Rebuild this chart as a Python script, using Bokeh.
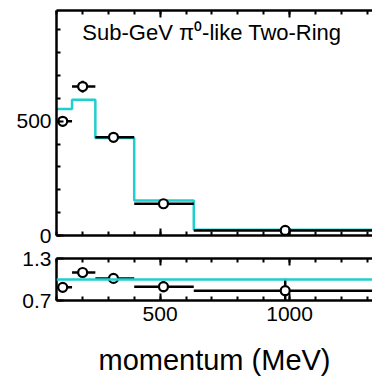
from bokeh.plotting import figure
from bokeh.layouts import column
from bokeh.models import (Range1d, FixedTicker, LinearAxis, Span, Label, CustomLabelingPolicy)
from bokeh.embed import file_html
from bokeh.resources import INLINE

# ---- data ----
bin_edges = [100, 160, 250, 400, 630, 1330]
mc_counts = [554, 594, 427, 153, 25]
data_x = [124, 201, 320, 513, 983]
data_counts = [500, 652, 430, 139, 22]
data_err = [22, 26, 21, 12, 5]
ratio = [0.888, 1.10, 1.016, 0.897, 0.84]
ratio_err = [0.04, 0.045, 0.05, 0.08, 0.17]
title_text = "Sub-GeV \u03c0\u2070-like Two-Ring"
x_label = "momentum (MeV)"

FONT = "Liberation Sans"
CYAN = "#1fcfcf"
W = 372
X0, X1 = 100, 1320

lo = bin_edges[:-1]
hi = bin_edges[1:]

HIDE = """
for (let i = 0; i < indices.size; i++) { indices.unset(i) }
return indices
"""


def style_axis(ax, labels=True, size="21px"):
    ax.axis_line_width = 2.5
    ax.axis_line_color = "black"
    ax.major_tick_in = 7
    ax.major_tick_out = 0
    ax.minor_tick_in = 4
    ax.minor_tick_out = 0
    ax.major_tick_line_width = 2
    ax.minor_tick_line_width = 2
    ax.major_label_text_font = FONT
    ax.major_label_text_color = "black"
    if labels:
        ax.major_label_text_font_size = size
    else:
        ax.major_label_text_font_size = "1px"
        ax.major_label_standoff = 0
        ax.major_label_policy = CustomLabelingPolicy(code=HIDE)


xticks = FixedTicker(ticks=[500, 1000], minor_ticks=[m for m in range(100, 1400, 100)])

# ---- top panel ----
top = figure(width=W, height=246, output_backend="svg", toolbar_location=None,
             x_range=Range1d(X0, X1), y_range=Range1d(0, 985),
             x_axis_location=None, y_axis_location=None,
             min_border_left=56, min_border_right=0, min_border_top=10, min_border_bottom=11)
top.outline_line_color = None
top.grid.visible = False
top.background_fill_color = "white"
top.border_fill_color = "white"

ly = LinearAxis(ticker=FixedTicker(ticks=[0, 500, 1000], minor_ticks=list(range(0, 1000, 100))),
                major_label_overrides={0: "0", 500: "500"})
style_axis(ly)
ly.major_label_standoff = 5
top.add_layout(ly, "left")
for loc in ("below", "above"):
    ax = LinearAxis(ticker=xticks)
    style_axis(ax, labels=False)
    top.add_layout(ax, loc)

step_x = bin_edges
step_y = mc_counts + [mc_counts[-1]]
top.step(step_x, step_y, mode="after", line_color=CYAN, line_width=2.5)
top.segment(x0=lo, x1=hi, y0=data_counts, y1=data_counts, line_color="black", line_width=2.5)
top.segment(x0=data_x, x1=data_x,
            y0=[c - e for c, e in zip(data_counts, data_err)],
            y1=[c + e for c, e in zip(data_counts, data_err)], line_color="black", line_width=2.5)
top.scatter(data_x, data_counts, marker="circle", size=9, fill_color="white",
            line_color="black", line_width=2.2)
top.add_layout(Label(x=700, y=888, text=title_text, text_font=FONT, text_font_size="22px",
                     text_align="center", text_baseline="middle", text_color="black"))

# ---- ratio panel ----
bot = figure(width=W, height=132, output_backend="svg", toolbar_location=None,
             x_range=top.x_range, y_range=Range1d(0.7, 1.3),
             x_axis_location=None, y_axis_location=None,
             min_border_left=56, min_border_right=0, min_border_top=12, min_border_bottom=75)
bot.outline_line_color = None
bot.grid.visible = False

ry = LinearAxis(ticker=FixedTicker(ticks=[0.7, 1.3], minor_ticks=[]),
                major_label_overrides={0.7: "0.7", 1.3: "1.3"})
style_axis(ry)
ry.major_label_standoff = 5
bot.add_layout(ry, "left")
bx = LinearAxis(ticker=xticks, major_label_overrides={500: "500", 1000: "1000"},
                axis_label=x_label)
style_axis(bx)
bx.major_label_standoff = 6
bx.axis_label_text_font = FONT
bx.axis_label_text_font_size = "29px"
bx.axis_label_text_font_style = "normal"
bx.axis_label_text_color = "black"
bx.axis_label_standoff = 20
bot.add_layout(bx, "below")
ba = LinearAxis(ticker=xticks)
style_axis(ba, labels=False)
bot.add_layout(ba, "above")

bot.add_layout(Span(location=1.0, dimension="width", line_color=CYAN, line_width=2.5))
bot.segment(x0=lo, x1=hi, y0=ratio, y1=ratio, line_color="black", line_width=2.5)
bot.segment(x0=data_x, x1=data_x,
            y0=[r - e for r, e in zip(ratio, ratio_err)],
            y1=[r + e for r, e in zip(ratio, ratio_err)], line_color="black", line_width=2.5)
bot.scatter(data_x, ratio, marker="circle", size=9, fill_color="white",
            line_color="black", line_width=2.2)

layout = column(top, bot, spacing=0)
open("out.html", "w").write(file_html(layout, INLINE))
